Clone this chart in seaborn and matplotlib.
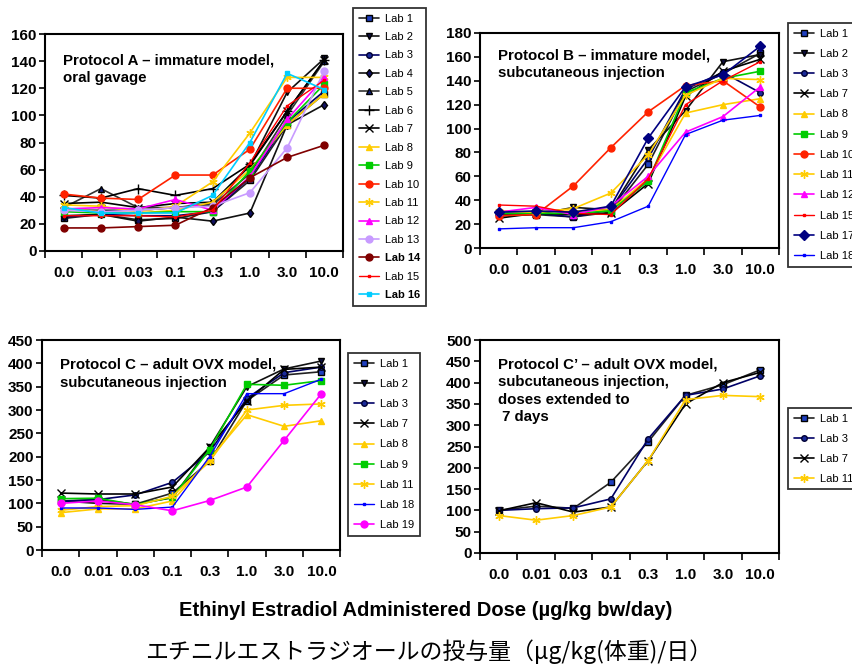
import matplotlib
matplotlib.use("Agg")
import matplotlib.pyplot as plt
import numpy as np
import seaborn as sns

doses = ["0.0", "0.01", "0.03", "0.1", "0.3", "1.0", "3.0", "10.0"]

# uterine weight per lab, one list per dose series
protocol_a = {
    "Lab 1": [24, 27, 23, 24, 29, 52, 93, 116],
    "Lab 2": [30, 30, 30, 32, 35, 63, 117, 142],
    "Lab 3": [25, 27, 26, 26, 29, 54, 95, 118],
    "Lab 4": [26, 27, 22, 25, 22, 28, 93, 108],
    "Lab 5": [32, 46, 32, 32, 34, 57, 100, 140],
    "Lab 6": [41, 39, 46, 41, 46, 64, 103, 141],
    "Lab 7": [35, 36, 32, 35, 36, 63, 103, 141],
    "Lab 8": [31, 29, 28, 30, 36, 60, 93, 116],
    "Lab 9": [29, 28, 28, 29, 29, 59, 95, 123],
    "Lab 10": [42, 39, 38, 56, 56, 75, 120, 120],
    "Lab 11": [34, 33, 29, 33, 51, 87, 128, 128],
    "Lab 12": [31, 32, 31, 38, 30, 55, 97, 128],
    "Lab 13": [30, 29, 30, 32, 33, 43, 76, 133],
    "Lab 14": [17, 17, 18, 19, 32, 54, 69, 78],
    "Lab 15": [26, 26, 26, 25, 30, 65, 107, 126],
    "Lab 16": [32, 28, 28, 28, 41, 80, 131, 119],
}

protocol_b = {
    "Lab 1": [28, 28, 26, 30, 70, 131, 146, 163],
    "Lab 2": [27, 28, 34, 32, 82, 115, 156, 162],
    "Lab 3": [29, 29, 26, 32, 75, 133, 147, 130],
    "Lab 7": [25, 29, 28, 29, 54, 127, 148, 158],
    "Lab 8": [31, 30, 31, 32, 58, 113, 120, 125],
    "Lab 9": [29, 29, 29, 31, 56, 130, 142, 148],
    "Lab 10": [27, 28, 52, 84, 114, 136, 140, 118],
    "Lab 11": [31, 30, 33, 46, 78, 128, 142, 141],
    "Lab 12": [30, 34, 28, 35, 60, 97, 110, 135],
    "Lab 15": [36, 35, 29, 28, 58, 120, 140, 156],
    "Lab 17": [30, 31, 30, 35, 92, 135, 145, 169],
    "Lab 18": [16, 17, 17, 22, 35, 95, 107, 111],
}

protocol_c = {
    "Lab 1": [105, 108, 98, 122, 190, 320, 375, 382],
    "Lab 2": [105, 100, 98, 112, 220, 350, 388, 405],
    "Lab 3": [104, 108, 118, 145, 210, 325, 380, 392],
    "Lab 7": [122, 120, 120, 135, 220, 320, 387, 392],
    "Lab 8": [80, 88, 88, 105, 195, 290, 265, 277],
    "Lab 9": [110, 111, 97, 113, 215, 355, 353, 363],
    "Lab 11": [85, 93, 95, 115, 190, 300, 310, 313],
    "Lab 18": [90, 90, 87, 92, 200, 335, 335, 366],
    "Lab 19": [100, 105, 97, 84, 106, 135, 235, 335],
}

protocol_c2 = {
    "Lab 1": [100, 110, 105, 166, 261, 370, 395, 430],
    "Lab 3": [100, 104, 106, 127, 268, 370, 385, 416],
    "Lab 7": [99, 118, 96, 108, 217, 350, 400, 424],
    "Lab 11": [88, 77, 88, 108, 217, 360, 370, 367],
}

# line colour, marker, marker size, marker face, marker edge, line width
lab_styles = {
    "Lab 1": ("#222222", "s", 4, "#1f3fbf", "#000000", 1.2),
    "Lab 2": ("#111111", "v", 4.5, "#101040", "#000000", 1.2),
    "Lab 3": ("#000066", "o", 4, "#1a2a9a", "#000033", 1.2),
    "Lab 4": ("#111111", "d", 4.5, "#101060", "#000000", 1.2),
    "Lab 5": ("#333333", "^", 5, "#102080", "#000000", 1.2),
    "Lab 6": ("#000000", "+", 7, "#000000", "#000000", 1.2),
    "Lab 7": ("#000000", "x", 5.5, "#000000", "#000000", 1.2),
    "Lab 8": ("#ffcc00", "^", 5, "#ffcc00", "#ffcc00", 1.2),
    "Lab 9": ("#00cc00", "s", 4.5, "#00cc00", "#00cc00", 1.2),
    "Lab 10": ("#ff2200", "o", 5, "#ff2200", "#ff2200", 1.2),
    "Lab 11": ("#ffcc00", (6, 2, 0), 6, "#ffcc00", "#ffcc00", 1.2),
    "Lab 12": ("#ff00ff", "^", 5, "#ff00ff", "#ff00ff", 1.2),
    "Lab 13": ("#c89bff", "o", 5, "#c89bff", "#c89bff", 1.2),
    "Lab 14": ("#800000", "o", 5, "#800000", "#800000", 1.2),
    "Lab 15": ("#ff0000", "s", 2, "#ff0000", "#ff0000", 1.0),
    "Lab 16": ("#00ccff", "s", 3, "#00ccff", "#00ccff", 1.2),
    "Lab 17": ("#000080", "D", 5.5, "#000080", "#000080", 1.2),
    "Lab 18": ("#0000ff", "s", 2, "#0000ff", "#0000ff", 1.0),
    "Lab 19": ("#ff00ff", "o", 5, "#ff00ff", "#ff00ff", 1.2),
}

sns.set_theme(style="ticks", rc={
    "axes.edgecolor": "black", "text.color": "black",
    "xtick.color": "black", "ytick.color": "black",
})
plt.rcParams["font.family"] = ["Liberation Sans", "DejaVu Sans"]


def draw_panel(fig, rect, data, ymax, ystep, title, title_y, title_ls,
               legend_xy, labelspacing, bold_labels=()):
    ax = fig.add_axes(rect)
    x = np.arange(len(doses))
    for lab, values in data.items():
        color, marker, ms, mfc, mec, lw = lab_styles[lab]
        sns.lineplot(x=x, y=values, ax=ax, color=color, marker=marker, ms=ms,
                     mfc=mfc, mec=mec, mew=1.0, lw=lw, label=lab, sort=False)

    ax.set_xlim(-0.5, 7.5)
    ax.set_ylim(0, ymax)
    ax.set_xticks(np.arange(-0.5, 8, 1))
    ax.set_xticklabels([])
    ax.set_xticks(x, minor=True)
    ax.set_xticklabels(doses, minor=True, fontweight="bold", fontsize=11)
    ax.tick_params(axis="x", which="major", length=5, width=1.2, direction="out")
    ax.tick_params(axis="x", which="minor", length=0, pad=11)
    ax.set_yticks(np.arange(0, ymax + 1, ystep))
    ax.set_yticklabels([str(v) for v in range(0, ymax + 1, ystep)],
                       fontweight="bold", fontsize=11)
    ax.tick_params(axis="y", length=4, width=1.2, direction="out", pad=2)
    for spine in ax.spines.values():
        spine.set_visible(True)
        spine.set_linewidth(1.5)
    ax.set_xlabel("")
    ax.set_ylabel("")

    ax.text(0.06, title_y, title, transform=ax.transAxes, ha="left", va="top",
            fontsize=10.8, fontweight="bold", linespacing=title_ls)

    leg = ax.legend(loc="upper left", bbox_to_anchor=legend_xy,
                    bbox_transform=fig.transFigure, borderaxespad=0,
                    fontsize=8, frameon=True, fancybox=False, edgecolor="black",
                    handlelength=1.8, handletextpad=0.6, labelspacing=labelspacing,
                    borderpad=0.5)
    leg.get_frame().set_linewidth(1.3)
    for txt in leg.get_texts():
        if txt.get_text() in bold_labels:
            txt.set_fontweight("bold")
    return ax


fig = plt.figure(figsize=(8.52, 6.64), dpi=100)
W, H = 852, 664


def rect(left, top, right, bottom):
    return [left / W, 1 - bottom / H, (right - left) / W, (bottom - top) / H]


draw_panel(fig, rect(45, 34, 343, 251), protocol_a, 160, 20,
           "Protocol A \u2013 immature model,\noral gavage", 0.908, 1.25,
           (353 / W, 1 - 8 / H), 0.76, bold_labels=("Lab 14", "Lab 16"))
draw_panel(fig, rect(480, 33, 779, 248), protocol_b, 180, 20,
           "Protocol B \u2013 immature model,\nsubcutaneous injection", 0.93, 1.38,
           (788 / W, 1 - 23 / H), 0.92)
draw_panel(fig, rect(42, 340, 340, 550), protocol_c, 450, 50,
           "Protocol C \u2013 adult OVX model,\nsubcutaneous injection", 0.916, 1.38,
           (348 / W, 1 - 353 / H), 0.92)
draw_panel(fig, rect(480, 340, 779, 553), protocol_c2, 500, 50,
           "Protocol C\u2019 \u2013 adult OVX model,\nsubcutaneous injection,\ndoses extended to\n 7 days",
           0.92, 1.34, (788 / W, 1 - 408 / H), 0.9)

fig.text(426 / W, 1 - 610 / H, "Ethinyl Estradiol Administered Dose (\u00b5g/kg bw/day)",
         ha="center", va="center", fontsize=14.5, fontweight="bold")
fig.text(429 / W, 1 - 652 / H,
         "エチニルエストラジオールの投与量（\u03bcg/kg(体重)/日）",
         ha="center", va="center", fontsize=16.5,
         family=["Noto Sans CJK JP", "DejaVu Sans"])

fig.savefig("out.png", dpi=100)
